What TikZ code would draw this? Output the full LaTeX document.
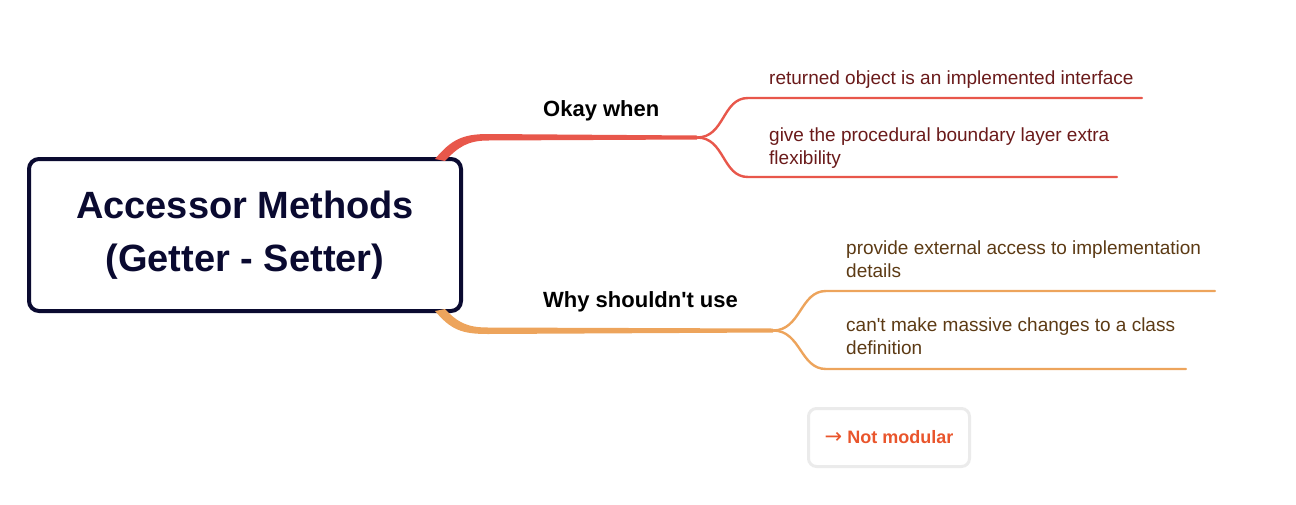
\documentclass[tikz,border=0pt]{standalone}
\usepackage{fontspec}
\setmainfont{Liberation Sans}[Ligatures=TeXOff]
\newfontfamily\arrowfont{DejaVu Sans}
\usetikzlibrary{positioning,calc}

\definecolor{titlenavy}{HTML}{0A0A30}
\definecolor{okred}{HTML}{E8574B}
\definecolor{whyorange}{HTML}{EDA45C}
\definecolor{oktext}{HTML}{6A1A1A}
\definecolor{whytext}{HTML}{5C3A14}
\definecolor{notred}{HTML}{E9552C}
\definecolor{notgray}{HTML}{EBEBEB}

\begin{document}
\begin{tikzpicture}[x=1pt,y=-1pt,
    leaf/.style={font=\fontsize{19}{23}\selectfont, anchor=base west, inner sep=0pt, align=left},
    label/.style={font=\fontsize{22}{28}\selectfont\bfseries, anchor=base west, inner sep=0pt, text=black},
    twig/.style={line width=2.4pt, line cap=round}]
\useasboundingbox (0,0) rectangle (1296,504);

% Root topic
\node[draw=titlenavy, line width=4pt, rounded corners=10pt, minimum width=432pt, minimum height=152pt,
      align=center, text=titlenavy, font=\fontsize{38}{53}\selectfont\bfseries] (root) at (245,235)
      {Accessor Methods\\(Getter - Setter)};

% Branch labels
\node[label] (okay) at (543,116) {Okay when};
\node[label] (why) at (543,307) {Why shouldn't use};

% Leaves of "Okay when" (base = last line)
\node[leaf, text=oktext] (ok1) at (769,84) {returned object is an implemented interface};
\node[leaf, text=oktext] (ok2) at (769,164) {give the procedural boundary layer extra\\flexibility};

% Leaves of "Why shouldn't use"
\node[leaf, text=whytext] (why1) at (846,277) {provide external access to implementation\\details};
\node[leaf, text=whytext] (why2) at (846,354) {can't make massive changes to a class\\definition};

% Forks and line ends
\coordinate (okfork) at (697,137.5);
\coordinate (whyfork) at (773,330.5);
\coordinate (ok1a) at (748,98);   \coordinate (ok1b) at (1142,98);
\coordinate (ok2a) at (748,177);  \coordinate (ok2b) at (1117,177);
\coordinate (why1a) at (826,291); \coordinate (why1b) at (1215,291);
\coordinate (why2a) at (826,369); \coordinate (why2b) at (1186,369);

% Tapered trunk to "Okay when"
\fill[okred] ($(root.north east)+(-28,2)$) .. controls (451,140) and (462,134) .. (488,134)
    -- ($(okfork)+(0,-2)$) -- ($(okfork)+(0,2)$) -- (488,140.5)
    .. controls (468,140.5) and (458,147) .. ($(root.north east)+(-18,4)$) -- cycle;

% Tapered trunk to "Why shouldn't use"
\fill[whyorange] ($(root.south east)+(-28,-2)$) .. controls (451,330) and (462,334) .. (488,334)
    -- ($(whyfork)+(0,2)$) -- ($(whyfork)+(0,-2)$) -- (488,327.5)
    .. controls (468,327.5) and (458,323) .. ($(root.south east)+(-18,-4)$) -- cycle;

% Twigs under the leaves
\draw[twig, okred] (okfork) .. controls +(28,0) and +(-26,0) .. (ok1a) -- (ok1b);
\draw[twig, okred] (okfork) .. controls +(28,0) and +(-26,0) .. (ok2a) -- (ok2b);
\draw[twig, whyorange] (whyfork) .. controls +(28,0) and +(-26,0) .. (why1a) -- (why1b);
\draw[twig, whyorange] (whyfork) .. controls +(28,0) and +(-26,0) .. (why2a) -- (why2b);

% Floating note
\node[draw=notgray, line width=3pt, rounded corners=8pt, minimum width=161pt, minimum height=58pt,
      text=notred, font=\fontsize{18}{22}\selectfont\bfseries] (notmod) at (889,437.5)
      {{\arrowfont\mdseries\fontsize{21}{22}\selectfont →} Not modular};

\end{tikzpicture}
\end{document}
